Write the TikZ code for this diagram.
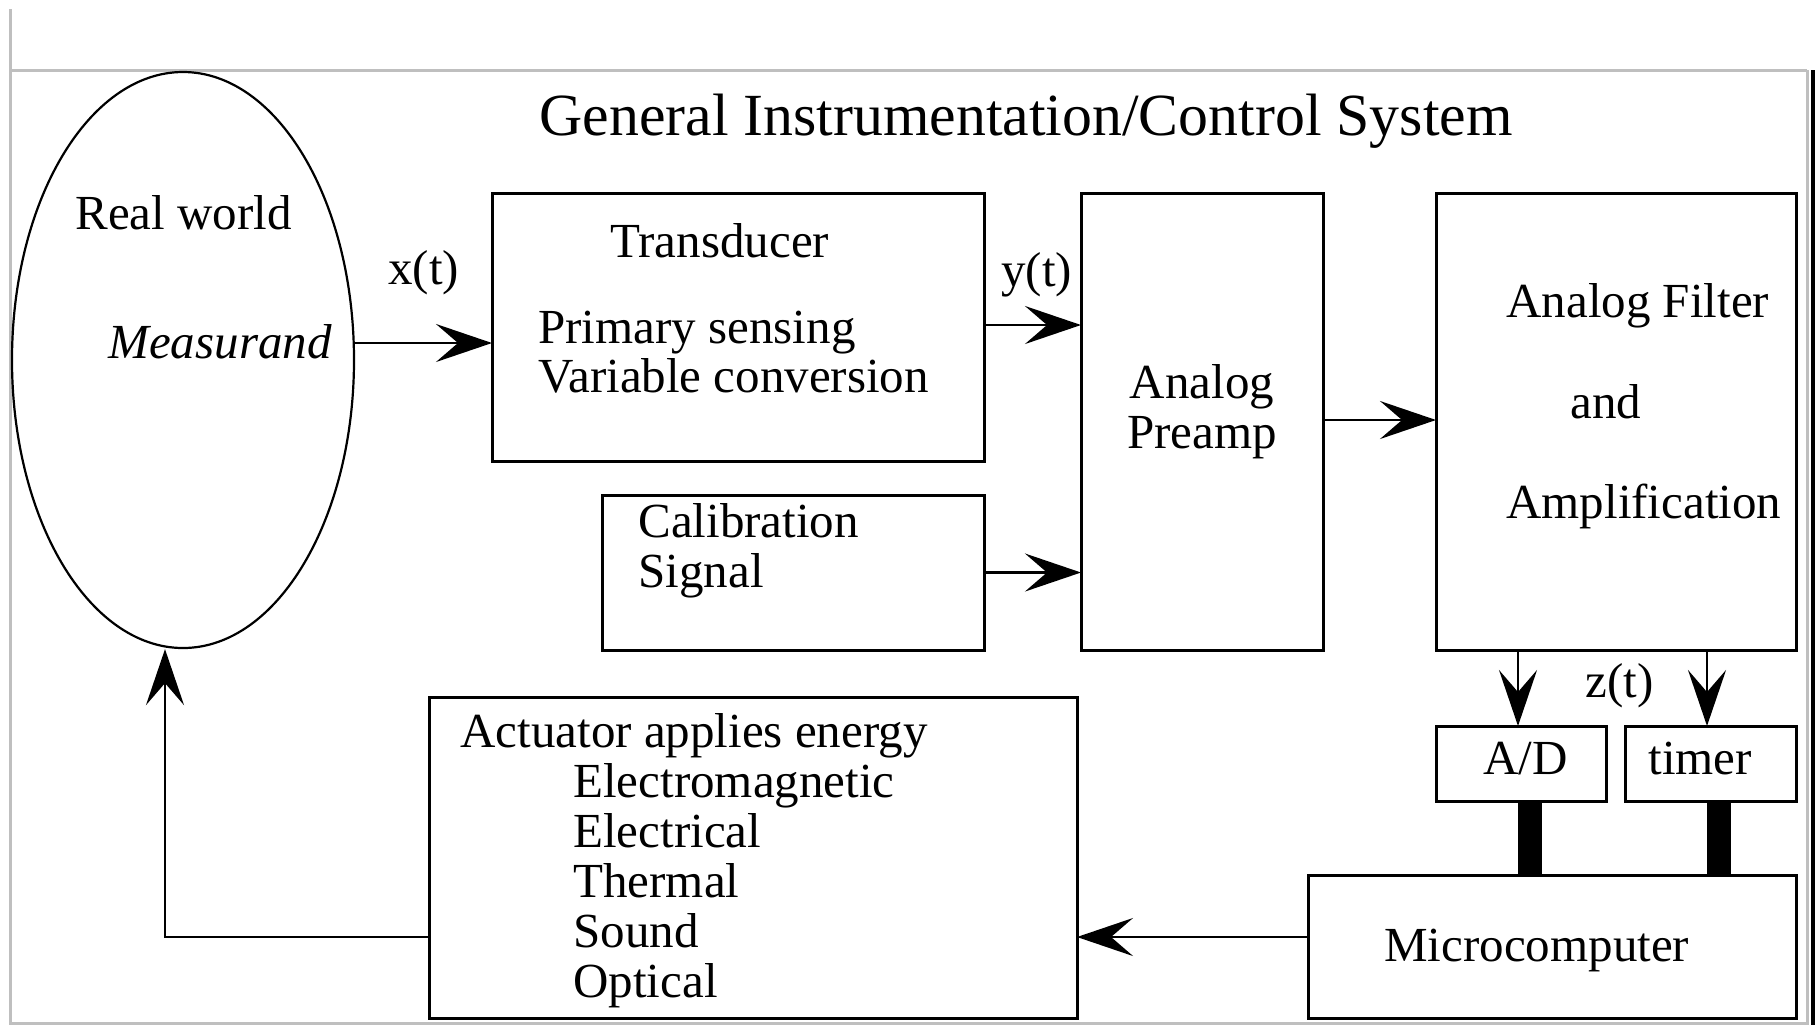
\documentclass[tikz,border=0pt]{standalone}
\usepackage{fontspec}
\setmainfont{Liberation Serif}
\usetikzlibrary{arrows.meta,shapes.geometric}

\tikzset{
  x=0.5pt, y=-0.5pt,
  frameline/.style={draw=black!25, line width=1.5pt},
  box/.style={draw, rectangle, line width=1.5pt, inner sep=0pt, outer sep=0pt},
  txt/.style={inner sep=0pt, anchor=base west, font=\fontsize{24.5}{29}\selectfont},
  ctxt/.style={txt, anchor=base},
  arr/.style={line width=1.4pt, -{Stealth[length=28pt,width=19pt,inset=11pt]}},
  bus/.style={line width=12pt},
}

\begin{document}
\begin{tikzpicture}
\useasboundingbox (0,0) rectangle (1815,1025);

% outer frame
\draw[frameline] (10,9) -- (10,1023) -- (1807,1023) -- (1807,70);
\draw[frameline] (10,70) -- (1807,70);
\draw[line width=2pt] (1813,70) -- (1813,1025);

% title
\node[txt, font=\fontsize{29.9}{35}\selectfont] (title) at (539,135) {General Instrumentation/Control System};

% real world
\node[draw, ellipse, line width=1.1pt, inner sep=0pt, minimum width=171pt, minimum height=288pt] (world) at (183,360) {};
\node[txt] (rw) at (75,229) {Real world};
\node[txt, font=\fontsize{24.5}{29}\selectfont\itshape] (meas) at (108,358) {Measurand};

% blocks
\node[box, minimum width=246pt, minimum height=134pt] (trans) at (738,327) {};
\node[box, minimum width=191pt, minimum height=77.5pt] (calib) at (793,572.5) {};
\node[box, minimum width=121pt, minimum height=228.5pt] (preamp) at (1202,421.5) {};
\node[box, minimum width=180pt, minimum height=228.5pt] (filter) at (1616,421.5) {};
\node[box, minimum width=85pt, minimum height=37.5pt] (ad) at (1521,763.5) {};
\node[box, minimum width=85.5pt, minimum height=37.5pt] (timer) at (1710.5,763.5) {};
\node[box, minimum width=244pt, minimum height=71.5pt] (micro) at (1552,946.5) {};
\node[box, minimum width=324pt, minimum height=160.5pt] (act) at (753,857.5) {};

% block texts
\node[txt] (trT) at (610,257) {Transducer};
\node[txt] (trA) at (538,343) {Primary sensing};
\node[txt] (trB) at (538,392) {Variable conversion};
\node[txt] (caA) at (638,537) {Calibration};
\node[txt] (caB) at (638,587) {Signal};
\node[ctxt] (paA) at (1202,398) {Analog};
\node[ctxt] (paB) at (1202,448) {Preamp};
\node[txt] (fiA) at (1506,317) {Analog Filter};
\node[txt] (fiB) at (1570,418) {and};
\node[txt] (fiC) at (1506,518) {Amplification};
\node[txt] (adT) at (1483,774) {A/D};
\node[txt] (tiT) at (1648,774) {timer};
\node[txt] (miT) at (1384,961) {Microcomputer};
\node[txt] (acA) at (460,747) {Actuator applies energy};
\node[txt] (acB) at (573,797) {Electromagnetic};
\node[txt] (acC) at (573,847) {Electrical};
\node[txt] (acD) at (573,897) {Thermal};
\node[txt] (acE) at (573,947) {Sound};
\node[txt] (acF) at (573,997) {Optical};

% signal labels
\node[txt] (xt) at (388,284) {x(t)};
\node[txt] (yt) at (1001,286) {y(t)};
\node[txt] (zt) at (1585,697) {z(t)};

% connector rows and columns
\coordinate (rowx) at (0,343);
\coordinate (rowy) at (0,325);
\coordinate (rowp) at (0,420);
\coordinate (rowm) at (0,937);
\coordinate (colad) at (1518,0);
\coordinate (colti) at (1707,0);
\coordinate (busad) at (1530,0);
\coordinate (busti) at (1718.5,0);
\coordinate (fb) at (165,937);

% connectors
\draw[arr] (world.east |- rowx) -- (trans.west |- rowx);
\draw[arr] (trans.east |- rowy) -- (preamp.west |- rowy);
\draw[arr] (calib.east) -- (preamp.west |- calib.east);
\draw[arr] (preamp.east |- rowp) -- (filter.west |- rowp);
\draw[arr] (filter.south -| colad) -- (ad.north -| colad);
\draw[arr] (filter.south -| colti) -- (timer.north -| colti);
\draw[bus] (ad.south -| busad) -- (micro.north -| busad);
\draw[bus] (timer.south -| busti) -- (micro.north -| busti);
\draw[arr] (micro.west |- rowm) -- (act.east |- rowm);
\draw[arr] (act.west |- fb) -- (fb) -- (fb |- world.south);
\end{tikzpicture}
\end{document}
